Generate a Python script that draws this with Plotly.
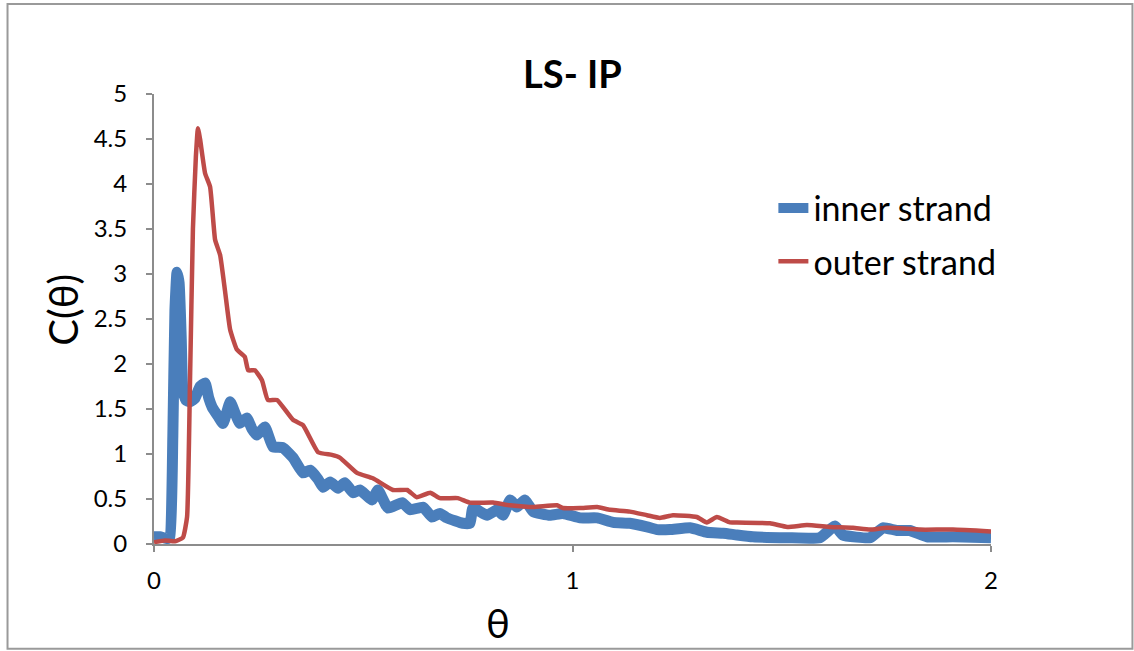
import plotly.graph_objects as go

# inner strand (blue)
inner_theta = [0.0, 0.014, 0.031, 0.038, 0.045, 0.05, 0.055, 0.06, 0.065, 0.069,
               0.076, 0.086, 0.098, 0.11, 0.122, 0.131, 0.139, 0.153, 0.165, 0.182,
               0.194, 0.205, 0.222, 0.234, 0.246, 0.265, 0.284, 0.308, 0.332, 0.356,
               0.373, 0.392, 0.404, 0.421, 0.44, 0.456, 0.476, 0.492, 0.521, 0.535,
               0.559, 0.593, 0.612, 0.643, 0.664, 0.683, 0.7, 0.738, 0.755, 0.762,
               0.796, 0.82, 0.834, 0.851, 0.867, 0.886, 0.906, 0.946, 0.977, 1.018,
               1.059, 1.097, 1.137, 1.178, 1.202, 1.233, 1.281, 1.321, 1.36, 1.393,
               1.431, 1.513, 1.591, 1.627, 1.646, 1.711, 1.742, 1.775, 1.806, 1.847,
               1.909, 2.0]
inner_c = [0.08, 0.08, 0.06, 0.08, 1.2, 2.6, 3.02, 2.9, 2.3, 1.7,
           1.6, 1.58, 1.62, 1.75, 1.79, 1.62, 1.52, 1.42, 1.34, 1.58,
           1.45, 1.34, 1.4, 1.28, 1.21, 1.3, 1.08, 1.07, 0.96, 0.79,
           0.82, 0.72, 0.63, 0.69, 0.62, 0.68, 0.57, 0.6, 0.49, 0.6,
           0.4, 0.46, 0.38, 0.41, 0.3, 0.34, 0.29, 0.23, 0.23, 0.4,
           0.32, 0.38, 0.32, 0.49, 0.41, 0.49, 0.36, 0.32, 0.34, 0.29,
           0.29, 0.24, 0.23, 0.19, 0.16, 0.16, 0.18, 0.13, 0.12, 0.1,
           0.08, 0.07, 0.07, 0.2, 0.1, 0.07, 0.18, 0.15, 0.15, 0.08,
           0.08, 0.07]

# outer strand (red)
outer_theta = [0.0, 0.026, 0.05, 0.069, 0.079, 0.086, 0.093, 0.1, 0.105, 0.11,
               0.122, 0.134, 0.146, 0.158, 0.17, 0.182, 0.198, 0.217, 0.225, 0.241,
               0.258, 0.272, 0.294, 0.332, 0.356, 0.392, 0.425, 0.444, 0.485, 0.523,
               0.571, 0.605, 0.628, 0.66, 0.683, 0.726, 0.755, 0.81, 0.851, 0.906,
               0.963, 0.977, 1.018, 1.059, 1.09, 1.137, 1.178, 1.209, 1.24, 1.297,
               1.321, 1.345, 1.376, 1.393, 1.472, 1.513, 1.56, 1.615, 1.67, 1.711,
               1.751, 1.83, 1.909, 2.0]
outer_c = [0.02, 0.04, 0.03, 0.07, 0.3, 1.8, 3.5, 4.3, 4.62, 4.5,
           4.12, 3.97, 3.38, 3.21, 2.8, 2.38, 2.16, 2.08, 1.93, 1.93,
           1.82, 1.6, 1.6, 1.38, 1.32, 1.02, 0.99, 0.96, 0.79, 0.73,
           0.6, 0.6, 0.52, 0.57, 0.51, 0.51, 0.46, 0.46, 0.43, 0.41,
           0.43, 0.4, 0.4, 0.41, 0.38, 0.36, 0.32, 0.29, 0.32, 0.3,
           0.24, 0.3, 0.24, 0.24, 0.23, 0.19, 0.21, 0.19, 0.18, 0.16,
           0.18, 0.16, 0.16, 0.14]

FONT = "Lato, Open Sans, sans-serif"
AXIS_GRAY = "#8c8c8c"
TICK_FONT = dict(family=FONT, size=24, color="black")

fig = go.Figure()
fig.add_trace(go.Scatter(x=inner_theta, y=inner_c, mode="lines", name="inner strand",
                         legendgroup="a",
                         line=dict(color="#4a7ebb", width=11, shape="spline", smoothing=0.4)))
fig.add_trace(go.Scatter(x=outer_theta, y=outer_c, mode="lines", name="outer strand",
                         legendgroup="b",
                         line=dict(color="#be4b48", width=4.5, shape="spline", smoothing=0.4)))

fig.update_layout(
    width=1134, height=651,
    margin=dict(l=154, r=143, t=94, b=107),
    plot_bgcolor="white", paper_bgcolor="white",
    font=dict(family=FONT, color="black"),
    title=dict(text="<b>LS- IP</b>", x=0.5, xanchor="center", xref="paper",
               y=0.885, yanchor="middle", font=dict(size=38, family=FONT)),
    showlegend=True,
    legend=dict(x=0.74, y=0.81, xanchor="left", yanchor="top",
                font=dict(size=34, family=FONT), tracegroupgap=6,
                bgcolor="rgba(0,0,0,0)"),
)
fig.update_xaxes(range=[0, 2], tickvals=[0, 1, 2], showgrid=False, zeroline=False,
                 showline=True, linecolor=AXIS_GRAY, linewidth=2,
                 ticks="outside", ticklen=6, tickcolor=AXIS_GRAY, tickwidth=2,
                 tickfont=TICK_FONT, ticklabelstandoff=8)
fig.update_yaxes(range=[0, 5], dtick=0.5, showgrid=False, zeroline=False,
                 showline=True, linecolor=AXIS_GRAY, linewidth=2,
                 ticks="outside", ticklen=6, tickcolor=AXIS_GRAY, tickwidth=2,
                 tickfont=TICK_FONT, ticklabelstandoff=14)

# axis titles placed like the original
fig.add_annotation(text="C(θ)", xref="paper", yref="paper", x=-0.109, y=0.52,
                   xanchor="center", yanchor="middle",
                   showarrow=False, textangle=-90, font=dict(size=40, family=FONT))
fig.add_annotation(text="θ", xref="paper", yref="paper", x=0.411, y=-0.176,
                   xanchor="center", yanchor="middle",
                   showarrow=False, font=dict(size=40, family=FONT))

# chart border
fig.add_shape(type="rect", xref="paper", yref="paper",
              x0=-0.175, x1=1.169, y0=-0.233, y1=1.2,
              line=dict(color="#9a9a9a", width=2))

fig.write_html("out.html", config={"displayModeBar": False},
               post_script="document.body.style.margin='0px';")
